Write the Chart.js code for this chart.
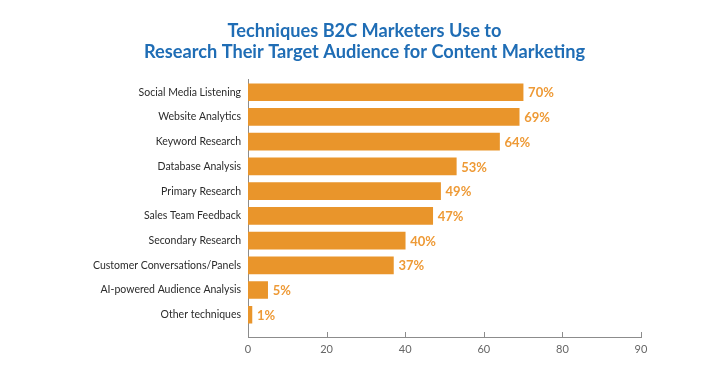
<!DOCTYPE html>
<html>
<head>
<meta charset="utf-8">
<script src="https://cdn.jsdelivr.net/npm/chart.js@4.4.1/dist/chart.umd.min.js"></script>
<style>
  html, body { margin: 0; padding: 0; background: #fff; }
  #wrap { width: 721px; height: 370px; }
</style>
</head>
<body>
<div id="wrap"><canvas id="chart" width="721" height="370"></canvas></div>
<script>
const categories = [
  "Social Media Listening",
  "Website Analytics",
  "Keyword Research",
  "Database Analysis",
  "Primary Research",
  "Sales Team Feedback",
  "Secondary Research",
  "Customer Conversations/Panels",
  "AI-powered Audience Analysis",
  "Other techniques",
];
const values = [70, 69, 64, 53, 49, 47, 40, 37, 5, 1];
const tickValues = [0, 20, 40, 60, 80, 100];
// the original axis labels its last tick "90"
const tickLabels = ["0", "20", "40", "60", "80", "90"];

const barColor = "#E9952B";
const labelColor = "#EE9A36";
const axisColor = "#8C8C8C";

const valueLabels = {
  id: "valueLabels",
  afterDatasetsDraw(chart) {
    const ctx = chart.ctx;
    const meta = chart.getDatasetMeta(0);
    ctx.save();
    ctx.font = "bold 13px Lato";
    ctx.fillStyle = labelColor;
    ctx.textAlign = "left";
    ctx.textBaseline = "middle";
    meta.data.forEach((bar, i) => {
      ctx.fillText(values[i] + "%", bar.x + 5, bar.y + 1);
    });
    ctx.restore();
  },
};

// short tick marks pointing up from the x axis line
const upTicks = {
  id: "upTicks",
  afterDraw(chart) {
    const ctx = chart.ctx;
    const x = chart.scales.x;
    const bottom = chart.chartArea.bottom;
    ctx.save();
    ctx.strokeStyle = axisColor;
    ctx.lineWidth = 1;
    tickValues.forEach((v) => {
      const px = Math.round(x.getPixelForValue(v)) + 0.5;
      ctx.beginPath();
      ctx.moveTo(px, bottom);
      ctx.lineTo(px, bottom - 5);
      ctx.stroke();
    });
    ctx.restore();
  },
};

new Chart(document.getElementById("chart"), {
  type: "bar",
  data: {
    labels: categories,
    datasets: [
      {
        data: values,
        backgroundColor: barColor,
        borderWidth: 0,
        barThickness: 17,
      },
    ],
  },
  options: {
    indexAxis: "y",
    responsive: false,
    animation: false,
    layout: { padding: { top: 0, right: 80, bottom: 0, left: 88 } },
    scales: {
      x: {
        min: 0,
        max: 100,
        afterBuildTicks: (s) => {
          s.ticks = tickValues.map((v) => ({ value: v }));
        },
        afterFit: (s) => {
          s.height = 33;
        },
        grid: { display: false, drawTicks: false },
        border: { display: true, color: axisColor, width: 1 },
        ticks: {
          padding: 6,
          color: "#666",
          font: { family: "Lato", size: 11 },
          callback: (v, i) => tickLabels[i],
        },
      },
      y: {
        afterFit: (s) => {
          s.width = 160;
        },
        afterBuildTicks: (s) => {
          // leave a little room below the last bar
          s._valueRange = 10.4;
        },
        grid: { display: false, drawTicks: false },
        border: { display: true, color: axisColor, width: 1 },
        ticks: {
          padding: 7,
          color: "#2b2b2b",
          font: { family: "Lato", size: 10.5 },
        },
      },
    },
    plugins: {
      legend: { display: false },
      tooltip: { enabled: false },
      title: {
        display: true,
        text: [
          "Techniques B2C Marketers Use to",
          "Research Their Target Audience for Content Marketing",
        ],
        color: "#1F6DB5",
        font: { family: "Lato", size: 18.2, weight: "bold", lineHeight: 1.15 },
        padding: { top: 21, bottom: 17 },
      },
    },
  },
  plugins: [valueLabels, upTicks],
});
</script>
</body>
</html>
